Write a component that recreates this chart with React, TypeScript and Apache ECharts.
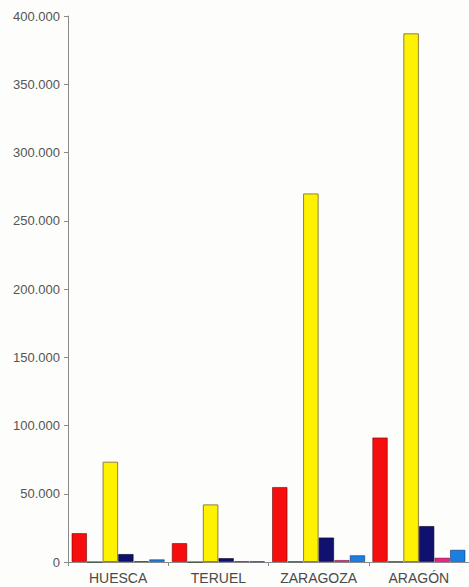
import React, { useEffect, useRef } from "react";
import * as echarts from "echarts";

const categories = ["HUESCA", "TERUEL", "ZARAGOZA", "ARAGÓN"];
const yTicks = [0, 50000, 100000, 150000, 200000, 250000, 300000, 350000, 400000];

const redValues = [21200, 13900, 55000, 91300];
const greenValues = [0, 0, 400, 400];
const yellowValues = [73500, 42200, 270000, 387300];
const navyValues = [5900, 2900, 18000, 26400];
const pinkValues = [700, 600, 1500, 3200];
const blueValues = [2000, 500, 5000, 9000];

const seriesDefs = [
  { name: "Rojo", data: redValues, color: "#f60d0d", border: "rgba(90,0,0,0.55)" },
  { name: "Verde", data: greenValues, color: "#0b7a3a", border: "rgba(0,40,0,0.5)" },
  { name: "Amarillo", data: yellowValues, color: "#fff200", border: "#8c8040" },
  { name: "Azul oscuro", data: navyValues, color: "#10106e", border: "rgba(0,0,40,0.6)" },
  { name: "Rosa", data: pinkValues, color: "#f0208a", border: "rgba(90,0,40,0.5)" },
  { name: "Azul", data: blueValues, color: "#1a7fe0", border: "rgba(0,30,80,0.5)" },
];

function fmt(v: number): string {
  if (v === 0) return "0";
  const s = String(Math.round(v));
  return s.replace(/\B(?=(\d{3})+(?!\d))/g, ".");
}

export default function App() {
  const ref = useRef<HTMLDivElement>(null);
  useEffect(() => {
    if (!ref.current) return;
    const chart = echarts.init(ref.current, undefined, { renderer: "svg" });
    chart.setOption({
      animation: false,
      backgroundColor: "#fdfdfb",
      grid: { left: 68, right: 0, top: 16, bottom: 25, containLabel: false },
      xAxis: {
        type: "category",
        data: categories,
        axisLine: { show: true, lineStyle: { color: "#8a8a8a", width: 1 } },
        axisTick: { show: true, length: 4, lineStyle: { color: "#8a8a8a" } },
        axisLabel: {
          color: "#4a4a4a",
          fontSize: 14,
          fontFamily: "Liberation Sans, Arial, sans-serif",
          margin: 9,
        },
      },
      yAxis: {
        type: "value",
        min: 0,
        max: yTicks[yTicks.length - 1],
        interval: 50000,
        axisLine: { show: true, lineStyle: { color: "#8a8a8a", width: 1 } },
        axisTick: { show: true, length: 4, lineStyle: { color: "#8a8a8a" } },
        splitLine: { show: false },
        axisLabel: {
          color: "#555555",
          fontSize: 13,
          fontFamily: "Liberation Sans, Arial, sans-serif",
          margin: 8,
          formatter: (v: number) => fmt(v),
        },
      },
      series: seriesDefs.map((s) => ({
        type: "bar",
        name: s.name,
        data: s.data,
        barGap: "0%",
        barCategoryGap: "7%",
        itemStyle: { color: s.color, borderColor: s.border, borderWidth: 1 },
      })),
    });
    return () => chart.dispose();
  }, []);
  return (
    <div
      ref={ref}
      style={{ position: "fixed", left: 0, top: 0, width: 469, height: 587 }}
    />
  );
}
